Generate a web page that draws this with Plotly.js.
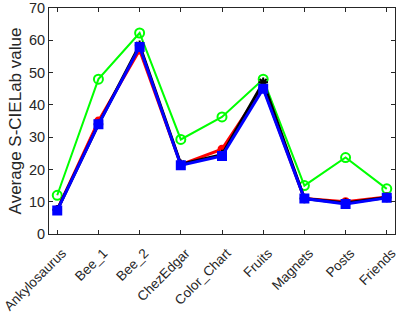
<!DOCTYPE html>
<html><head><meta charset="utf-8">
<script src="https://cdn.plot.ly/plotly-3.0.1.min.js"></script>
<style>html,body{margin:0;padding:0;background:#fff}</style>
</head><body><div id="chart" style="width:398px;height:315px"></div>
<script>
const categories = ["Ankylosaurus","Bee_1","Bee_2","ChezEdgar","Color_Chart","Fruits","Magnets","Posts","Friends"];
const greenVals = [12, 48, 62.3, 29.3, 36.3, 48, 15, 23.7, 14];
const redVals   = [7.5, 35, 57, 21.5, 26.3, 45.5, 11, 10, 11.5];
const blackVals = [7.5, 34, 58.5, 21.6, 24.6, 47, 11, 9.6, 11.3];
const blueVals  = [7.3, 34, 58, 21.3, 24.2, 45, 11, 9.3, 11.2];
const yTicks = [0,10,20,30,40,50,60,70];

const xIdx = categories.map((c,i)=>i+1);
function tr(y, color, symbol, size, width){
  return {x:xIdx, y:y, type:'scatter', mode:'lines+markers',
    line:{color:color, width:width},
    marker:{color:color, symbol:symbol, size:size, line:{color:color, width:2}},
    showlegend:false, cliponaxis:false};
}
const data = [
  tr(greenVals,'#00ff00','circle-open',9,2),
  tr(redVals,'#ff0000','circle',7,3),
  tr(blackVals,'#000000','asterisk-open',8,3),
  tr(blueVals,'#0000ff','square',8,3)
];
const axColor = '#262626';
const layout = {
  width:398, height:315,
  margin:{l:49, r:3, t:8, b:81},
  paper_bgcolor:'#fff', plot_bgcolor:'#fff',
  font:{family:'Liberation Sans, Arial, sans-serif', color:axColor, size:15},
  xaxis:{range:[0.8,9.2], tickvals:xIdx, ticktext:categories, tickangle:-45,
    ticks:'inside', ticklen:4, tickcolor:axColor, showline:true, linecolor:axColor, linewidth:1,
    mirror:'ticks', showgrid:false, zeroline:false, tickfont:{size:13.5, color:axColor},
    ticklabeloverflow:'allow', automargin:false, ticklabelshift:5, ticklabelstandoff:5},
  yaxis:{range:[0,70.05], tickvals:yTicks, ticks:'inside', ticklen:4, tickcolor:axColor,
    showline:true, linecolor:axColor, linewidth:1, mirror:'ticks', showgrid:false, zeroline:false,
    tickfont:{size:14.5, color:axColor}, ticklabeloverflow:'allow', automargin:false,
    title:{text:'Average S-CIELab value', font:{size:17, color:axColor}, standoff:3}}
};
Plotly.newPlot('chart', data, layout, {displayModeBar:false, staticPlot:true});
</script></body></html>
